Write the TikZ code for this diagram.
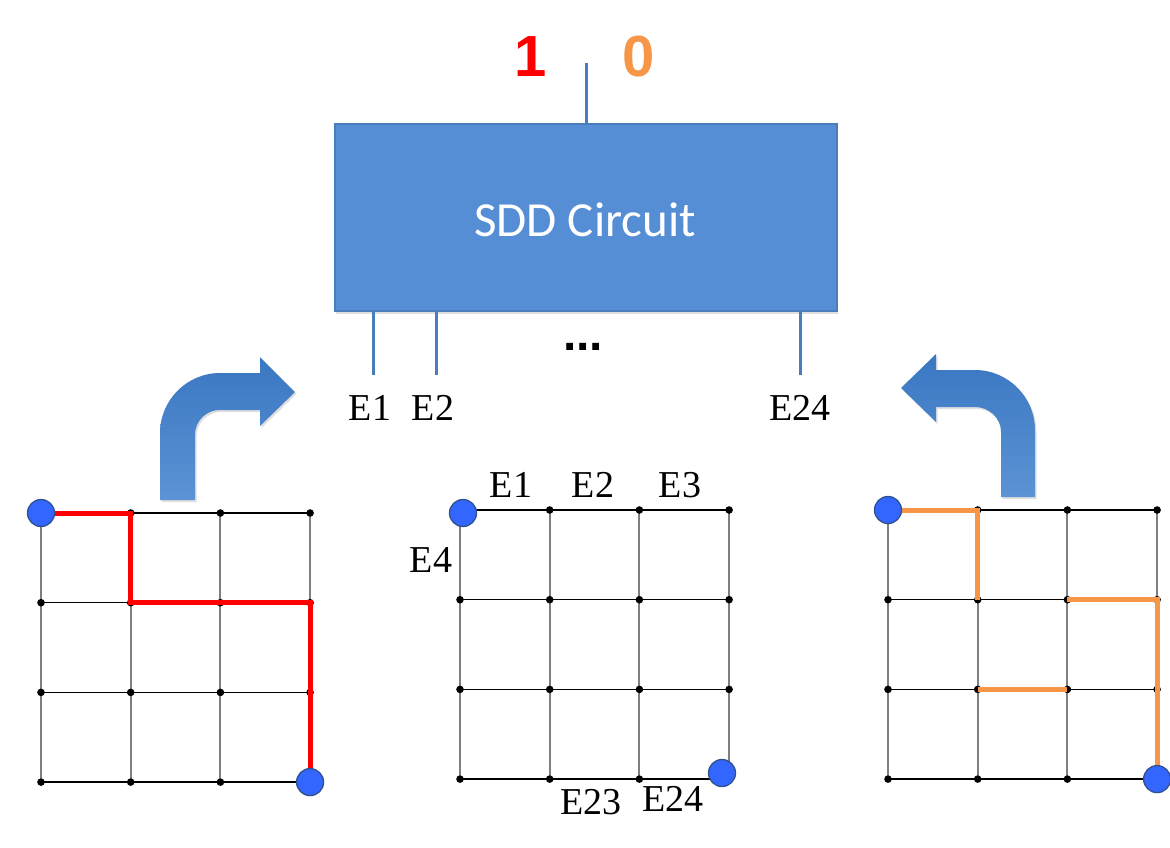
\documentclass[tikz,border=0pt]{standalone}
\usepackage{fontspec}
\setmainfont{Liberation Serif}
\newfontfamily\calibrif{Carlito}
\newfontfamily\arialf{Liberation Sans}
\usetikzlibrary{shadows}
\definecolor{boxfill}{HTML}{558ED5}
\definecolor{boxedge}{HTML}{4A7EBB}
\definecolor{arrtop}{HTML}{3A77C2}
\definecolor{arrbot}{HTML}{5B93D4}
\definecolor{pathorange}{HTML}{F79646}
\definecolor{dotblue}{HTML}{3366FF}
\definecolor{dotedge}{HTML}{2F528F}
\definecolor{vgray}{HTML}{7F7F7F}
\tikzset{
  sddbox/.style={rectangle, draw=boxedge, line width=1.5pt, fill=boxfill,
    minimum width=502pt, minimum height=187pt, inner sep=0pt,
    drop shadow={shadow xshift=1pt, shadow yshift=-3pt, opacity=0.25}},
  stem/.style={draw=boxedge, line width=3pt},
  elabel/.style={inner sep=0pt, font=\fontsize{38}{40}\selectfont},
  hline/.style={draw=black, line width=1.5pt},
  vline/.style={draw=vgray, line width=2pt},
  endpt/.style={circle, fill=dotblue, draw=dotedge, line width=1.3pt, minimum size=27pt, inner sep=0pt},
  redpath/.style={draw=red, line width=5pt},
  orangepath/.style={draw=pathorange, line width=5pt},
  bentarrow/.style={top color=arrtop, bottom color=arrbot, draw=none,
    drop shadow={shadow xshift=1.5pt, shadow yshift=-2pt, opacity=0.25}}
}
\newcommand{\mkgrid}[3]{%
  \foreach \i in {0,...,3}{\foreach \j in {0,...,3}{\coordinate (#1-\i-\j) at ({#2+\i*89.7},{#3+\j*89.7});}}
  \foreach \j in {0,...,3}{\draw[hline] (#1-0-\j) -- (#1-3-\j);}
  \foreach \i in {0,...,3}{\draw[vline] (#1-\i-0) -- (#1-\i-3);}
  \foreach \i in {0,...,3}{\foreach \j in {0,...,3}{\fill (#1-\i-\j) circle (3.8pt);}}
}
\begin{document}
\begin{tikzpicture}[x=1pt, y=-1pt]
\useasboundingbox (0,0) rectangle (1170,847);
% SDD box
\node[sddbox] (sdd) at (586,217.5) {};
\node[text=white, font=\calibrif\fontsize{49}{52}\selectfont] (sddlbl) at (585,220) {SDD Circuit};
% output stem and values
\coordinate (outtop) at (586,63);
\draw[stem] (sdd.north -| outtop) -- (outtop);
\node[text=red, font=\arialf\bfseries\fontsize{58}{60}\selectfont, inner sep=0pt] (one) at (531,57) {1};
\node[text=pathorange, font=\arialf\bfseries\fontsize{58}{60}\selectfont, inner sep=0pt] (zero) at (639,57) {0};
% input stems
\coordinate (e1bot) at (373,375);
\coordinate (e2bot) at (436,375);
\coordinate (e24bot) at (800,375);
\draw[stem] (sdd.south -| e1bot) -- (e1bot);
\draw[stem] (sdd.south -| e2bot) -- (e2bot);
\draw[stem] (sdd.south -| e24bot) -- (e24bot);
\node[elabel] (in1) at (370,408) {E1};
\node[elabel] (in2) at (433,408) {E2};
\node[elabel] (in24) at (800,408) {E24};
\node[inner sep=0pt, font=\arialf\bfseries\fontsize{48}{50}\selectfont] (dots) at (583,347) {...};
% bent arrows
\path[bentarrow] (160,500) -- (160,433) .. controls (160,400) and (187,373) .. (220,373)
  -- (260,373) -- (260,357) -- (295,392) -- (260,426) -- (260,410) -- (220,410)
  .. controls (206,410) and (195,421) .. (195,435) -- (195,500) -- cycle;
\path[bentarrow] (1035,497) -- (1035,430) .. controls (1035,397) and (1008,370) .. (975,370)
  -- (936,370) -- (936,354) -- (901,388) -- (936,422) -- (936,407) -- (975,407)
  .. controls (989,407) and (1001,418) .. (1001,432) -- (1001,497) -- cycle;
% left grid
\mkgrid{L}{41}{513}
\draw[redpath] (L-0-0) -- (L-1-0) -- (L-1-1) -- (L-3-1) -- (L-3-3);
\node[endpt] (Ls) at (L-0-0) {};
\node[endpt] (Lt) at (L-3-3) {};
% middle grid
\mkgrid{M}{460}{510}
\node[endpt] (Ms) at (463,513) {};
\node[endpt] (Mt) at (722,773) {};
\node[elabel] (m1) at (511,485) {E1};
\node[elabel] (m2) at (593,485) {E2};
\node[elabel] (m3) at (680,485) {E3};
\node[elabel] (m4) at (431,560) {E4};
\node[elabel] (m23) at (591,802) {E23};
\node[elabel] (m24) at (673,799) {E24};
% right grid
\mkgrid{R}{888}{510}
\draw[orangepath] (R-0-0) -- (R-1-0) -- (R-1-1);
\draw[orangepath] (R-1-2) -- (R-2-2);
\draw[orangepath] (R-2-1) -- (R-3-1) -- (R-3-3);
\node[endpt] (Rs) at (R-0-0) {};
\node[endpt] (Rt) at (R-3-3) {};
\end{tikzpicture}
\end{document}
